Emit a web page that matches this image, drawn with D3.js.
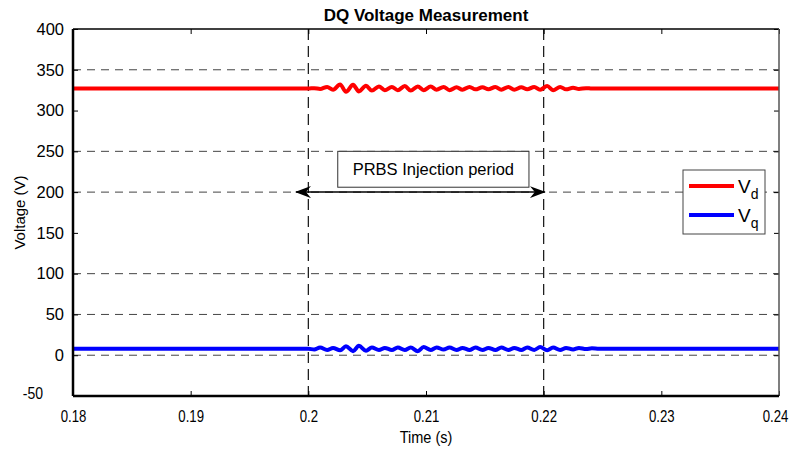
<!DOCTYPE html>
<html lang="en">
<head>
<meta charset="UTF-8">
<title>DQ Voltage Measurement</title>
<script src="https://d3js.org/d3.v7.min.js"></script>
<style>
  body { margin: 0; background: #fff; }
  text { font-family: "Liberation Sans", Arial, sans-serif; fill: #000; }
  .tick text { font-size: 16.5px; }
  .axis .domain { display: none; }
</style>
</head>
<body>
<svg id="chart" width="795" height="452"></svg>
<script>
// ---- data ----
const xTicks = [0.18, 0.19, 0.2, 0.21, 0.22, 0.23, 0.24];
const yTicks = [-50, 0, 50, 100, 150, 200, 250, 300, 350, 400];
const gridY = [0, 50, 100, 200, 250, 350];
const markerX = [0.2, 0.22];

const vdTime = [0.18, 0.2000, 0.2005, 0.2010, 0.2016, 0.2021, 0.2027, 0.2032, 0.2038, 0.2043, 0.2049,
  0.2054, 0.2060, 0.2065, 0.2071, 0.2076, 0.2082, 0.2087, 0.2093, 0.2098, 0.2104,
  0.2109, 0.2115, 0.2120, 0.2126, 0.2131, 0.2137, 0.2142, 0.2148, 0.2153, 0.2159,
  0.2164, 0.2170, 0.2175, 0.2181, 0.2186, 0.2192, 0.2197, 0.2203, 0.2208, 0.2214,
  0.2219, 0.2225, 0.2230, 0.2236, 0.2241, 0.24];
const vdValue = [327, 327, 327.5, 326.5, 329, 325.5, 332, 323, 331.5, 323.5, 330.5,
  324.5, 329.5, 325, 329, 325, 330, 324.5, 329.5, 325, 329.5,
  325.5, 329, 325, 328.5, 325.5, 329, 326, 328.5, 326, 329,
  325.5, 329, 325.5, 328.5, 326, 329, 325.5, 330, 325, 329,
  326, 328, 326.5, 327.5, 327, 327];

const vqTime = [0.18, 0.2000, 0.2005, 0.2010, 0.2016, 0.2021, 0.2027, 0.2032, 0.2038, 0.2043, 0.2049,
  0.2054, 0.2060, 0.2065, 0.2071, 0.2076, 0.2082, 0.2087, 0.2093, 0.2098, 0.2104,
  0.2109, 0.2115, 0.2120, 0.2126, 0.2131, 0.2137, 0.2142, 0.2148, 0.2153, 0.2159,
  0.2164, 0.2170, 0.2175, 0.2181, 0.2186, 0.2192, 0.2197, 0.2203, 0.2208, 0.2214,
  0.2219, 0.2225, 0.2230, 0.2236, 0.2241, 0.2247, 0.24];
const vqValue = [8, 8, 7, 9.5, 6.5, 9, 6, 11, 5, 11.5, 5.5,
  9.5, 6.5, 9, 6.5, 9.5, 6.5, 9.5, 5, 10, 6.5,
  9.5, 7, 9.5, 6.5, 9, 6.5, 9.5, 6.5, 9, 6.5,
  9.5, 6.5, 9, 6.5, 9.5, 6.5, 10, 6, 9.5, 6.5,
  9, 7, 9, 7.5, 8.5, 8, 8];

// annotation in data coordinates
const arrowT = [0.19895, 0.2201];
const arrowV = 200;
const noteBox = { t0: 0.2025, t1: 0.21875, v0: 250, v1: 206 };

// ---- layout ----
const svg = d3.select("#chart");
const margin = { top: 29, right: 16, bottom: 56, left: 73 };
const W = 795 - margin.left - margin.right;
const H = 452 - margin.top - margin.bottom;

const x = d3.scaleLinear().domain([0.18, 0.24]).range([0, W]);
const y = d3.scaleLinear().domain([-50, 400]).range([H, 0]);

const g = svg.append("g").attr("transform", `translate(${margin.left},${margin.top})`);

// squeeze text horizontally (reference uses a narrow face)
function narrow(sel, k) {
  sel.each(function () {
    const len = this.getComputedTextLength();
    d3.select(this).attr("textLength", len * k).attr("lengthAdjust", "spacingAndGlyphs");
  });
}

// gridlines
g.selectAll("line.gy").data(gridY).join("line")
  .attr("class", "gy")
  .attr("x1", 0).attr("x2", W)
  .attr("y1", d => y(d)).attr("y2", d => y(d))
  .attr("stroke", "#444").attr("stroke-width", 1)
  .attr("stroke-dasharray", "8,6");

g.selectAll("line.gx").data(markerX).join("line")
  .attr("class", "gx")
  .attr("x1", d => x(d)).attr("x2", d => x(d))
  .attr("y1", 0).attr("y2", H)
  .attr("stroke", "#111").attr("stroke-width", 1.2)
  .attr("stroke-dasharray", "11,6");

// series
const line = d3.line().curve(d3.curveMonotoneX);
g.append("path")
  .attr("d", line(vdTime.map((t, i) => [x(t), y(vdValue[i])])))
  .attr("fill", "none").attr("stroke", "#ff0000").attr("stroke-width", 4);
g.append("path")
  .attr("d", line(vqTime.map((t, i) => [x(t), y(vqValue[i])])))
  .attr("fill", "none").attr("stroke", "#0000ff").attr("stroke-width", 4);

// axes
const bottomAxis = g.append("g").attr("class", "axis")
  .attr("transform", `translate(0,${H})`)
  .call(d3.axisBottom(x).tickValues(xTicks).tickFormat(d => String(d)).tickSize(-5).tickPadding(12));
bottomAxis.selectAll(".tick text").attr("dy", "0.85em").call(narrow, 0.8);
bottomAxis.selectAll(".tick text").filter(d => d === 0.24).attr("dx", -4);

g.append("g").attr("class", "axis")
  .call(d3.axisTop(x).tickValues(xTicks).tickFormat("").tickSize(-5));

const leftAxis = g.append("g").attr("class", "axis")
  .call(d3.axisLeft(y).tickValues(yTicks).tickFormat(d => String(d)).tickSize(-5).tickPadding(9));
leftAxis.selectAll(".tick text")
  .filter(d => d === -50)
  .attr("dx", -21).attr("dy", "0.15em").call(narrow, 0.85);

g.append("g").attr("class", "axis")
  .attr("transform", `translate(${W},0)`)
  .call(d3.axisRight(y).tickValues(yTicks).tickFormat("").tickSize(-5));

g.selectAll(".tick line").attr("stroke", "#000");

// frame
g.append("line").attr("x1", 0).attr("x2", W).attr("y1", 0).attr("y2", 0).attr("stroke", "#000").attr("stroke-width", 1.5);
g.append("line").attr("x1", W).attr("x2", W).attr("y1", 0).attr("y2", H).attr("stroke", "#555").attr("stroke-width", 1.5);
g.append("line").attr("x1", 0).attr("x2", W).attr("y1", H).attr("y2", H).attr("stroke", "#000").attr("stroke-width", 2.5);
g.append("line").attr("x1", 0).attr("x2", 0).attr("y1", 0).attr("y2", H).attr("stroke", "#000").attr("stroke-width", 2.5);

// annotation box + arrow
g.append("rect")
  .attr("x", x(noteBox.t0)).attr("y", y(noteBox.v0))
  .attr("width", x(noteBox.t1) - x(noteBox.t0))
  .attr("height", y(noteBox.v1) - y(noteBox.v0))
  .attr("fill", "#fff").attr("stroke", "#333").attr("stroke-width", 1);
g.append("text")
  .attr("x", (x(noteBox.t0) + x(noteBox.t1)) / 2)
  .attr("y", (y(noteBox.v0) + y(noteBox.v1)) / 2 + 6)
  .attr("text-anchor", "middle").style("font-size", "16.5px")
  .text("PRBS Injection period");

const defs = svg.append("defs");
defs.append("marker").attr("id", "head")
  .attr("viewBox", "0 0 16 12").attr("refX", 15).attr("refY", 6)
  .attr("markerWidth", 16).attr("markerHeight", 12)
  .attr("markerUnits", "userSpaceOnUse")
  .attr("orient", "auto-start-reverse")
  .append("path").attr("d", "M0,0 L16,6 L0,12 L5,6 Z").attr("fill", "#000");

g.append("line")
  .attr("x1", x(arrowT[0])).attr("x2", x(arrowT[1]))
  .attr("y1", y(arrowV)).attr("y2", y(arrowV))
  .attr("stroke", "#000").attr("stroke-width", 1.5)
  .attr("marker-start", "url(#head)").attr("marker-end", "url(#head)");

// legend
const lg = svg.append("g").attr("transform", "translate(683,170)");
lg.append("rect").attr("width", 82).attr("height", 64)
  .attr("fill", "#fff").attr("stroke", "#444").attr("stroke-width", 1);
[["#ff0000", "d"], ["#0000ff", "q"]].forEach(([c, s], i) => {
  const yy = 16 + i * 29;
  lg.append("line").attr("x1", 6).attr("x2", 51).attr("y1", yy).attr("y2", yy)
    .attr("stroke", c).attr("stroke-width", 4);
  const t = lg.append("text").attr("x", 55).attr("y", yy + 7).style("font-size", "19px");
  t.append("tspan").text("V");
  t.append("tspan").attr("dy", 6).style("font-size", "14px").text(s);
});

// title and axis labels
svg.append("text").attr("x", margin.left + W / 2).attr("y", 21)
  .attr("text-anchor", "middle").style("font-size", "17px").style("font-weight", "bold")
  .text("DQ Voltage Measurement");
svg.append("text").attr("x", margin.left + W / 2).attr("y", 443)
  .attr("text-anchor", "middle").style("font-size", "16.5px")
  .text("Time (s)").call(narrow, 0.88);
svg.append("text")
  .attr("transform", `translate(25,${margin.top + H / 2}) rotate(-90)`)
  .attr("text-anchor", "middle").style("font-size", "15px")
  .text("Voltage (V)");
</script>
</body>
</html>
